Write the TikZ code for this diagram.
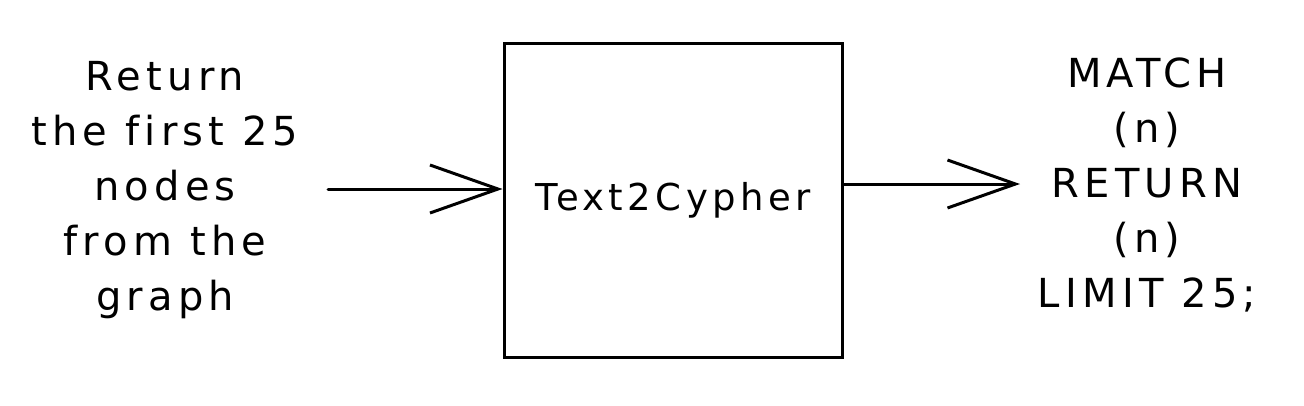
\documentclass[tikz,border=0pt]{standalone}
\usepackage{fontspec}
\setmainfont{DejaVu Sans}[LetterSpace=12,Ligatures=NoCommon]
\newfontfamily\sidefont{DejaVu Sans}[LetterSpace=13,Ligatures=NoCommon]
\usetikzlibrary{arrows.meta}
\begin{document}
\begin{tikzpicture}[x=1pt,y=1pt,
  txt/.style={align=center,font=\sidefont\fontsize{40}{55}\selectfont,inner sep=0pt},
  boxst/.style={draw,line width=3pt,minimum width=338pt,minimum height=314pt,inner sep=0pt,font=\fontsize{37}{44}\selectfont},
  conn/.style={line width=3pt,line cap=round,-{Straight Barb[length=68pt,width=48pt,line width=3pt]}}]
\useasboundingbox (0,0) rectangle (1304,-405);
\node[boxst] (box) at (673,-200) {Text2Cypher};
\node[txt] (in) at (165,-190) {Return\\the first 25\\nodes\\from the\\graph};
\node[txt] (out) at (1147,-185) {MATCH\\(n)\\RETURN\\(n)\\LIMIT 25;};
\coordinate (a1) at (328,-189);
\coordinate (a2) at (1020,-184);
\draw[conn] (a1) -- (box.west |- a1);
\draw[conn] (box.east |- a2) -- (a2);
\end{tikzpicture}
\end{document}
